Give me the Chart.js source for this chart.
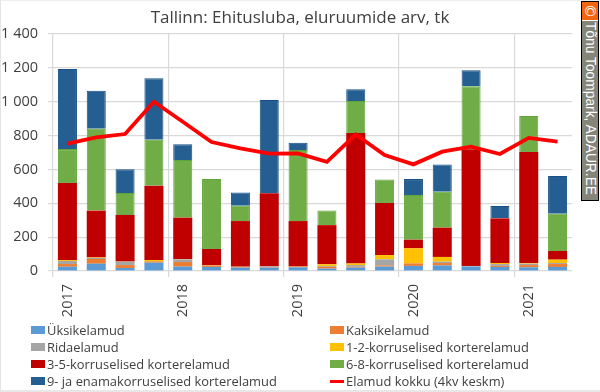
<!DOCTYPE html>
<html><head><meta charset="utf-8">
<script src="https://cdn.jsdelivr.net/npm/chart.js@4"></script>
<style>
html,body{margin:0;padding:0;background:#fff;width:600px;height:392px;overflow:hidden}
#wrap{position:relative;width:600px;height:392px;font-family:"Open Sans",sans-serif}
canvas{position:absolute;left:0;top:0}
#frame{position:absolute;left:0;top:0;width:600px;height:392px;box-sizing:border-box;border-left:1px solid #e4e4e4;border-top:1px solid #eeeeee;border-bottom:2px solid #e8e8e8}
.lg{position:absolute;font-size:12.9px;line-height:16px;color:#404040;white-space:nowrap}
.sw{position:absolute;width:14px;height:8px;box-sizing:border-box}
#wm{position:absolute;left:581px;top:1px;width:18px;height:200px;border:1px solid #000;background:#85857a;box-sizing:border-box;overflow:hidden}
#wmc{position:absolute;left:0;top:0;width:16px;height:18px;background:#f4650f;color:#fff;font:14px "DejaVu Sans";text-align:center;line-height:18px;border-bottom:1px solid #fff;box-sizing:content-box}
#wmc span{display:inline-block;transform:rotate(90deg)}
#wmt{position:absolute;left:16px;top:20px;transform-origin:0 0;transform:rotate(90deg);color:#fff;font:13.8px "Liberation Sans";white-space:nowrap;line-height:16px}
</style></head><body>
<div id="wrap"><canvas id="c" width="600" height="392"></canvas>
<div id="frame"></div>
<div id="wm"><div id="wmc"><span>©</span></div><div id="wmt">Tõnu Toompark, ADAUR.EE</div></div>
</div>
<script>
const categories=['2017','','','','2018','','','','2019','','','','2020','','','','2021',''];
const seriesNames=['Üksikelamud','Kaksikelamud','Ridaelamud','1-2-korruselised korterelamud','3-5-korruselised korterelamud','6-8-korruselised korterelamud','9- ja enamakorruselised korterelamud','Elamud kokku (4kv keskm)'];
const yksik=[25,43,18,49,26,24,20,20,22,14,20,26,30,33,26,24,22,24];
const kaksik=[16,28,17,8,27,9,6,4,6,11,5,7,15,14,0,6,13,17];
const rida=[18,6,20,0,16,0,0,4,0,5,10,36,0,8,4,11,8,6];
const yks2=[5,3,1,8,2,2,0,0,0,10,10,25,89,28,0,6,4,20];
const k35=[456,277,275,438,244,95,269,432,267,231,770,307,51,173,689,264,656,51];
const k68=[200,483,130,272,340,413,91,0,420,87,189,140,264,212,373,0,212,220];
const k9=[473,225,140,363,93,0,78,550,43,0,69,0,94,161,94,73,0,223];
const kokku=[752,789,809,1000,882,762,725,693,695,645,807,685,630,705,735,691,786,764];
const fills=['#5b9bd5','#ed7d31','#a5a5a5','#ffc000','#c00000','#70ad47','#255e91'];
const edges=[null,null,null,null,null,'#5fa638','#174f86'];
const stacks=[yksik,kaksik,rida,yks2,k35,k68,k9];
const datasets=stacks.map((d,i)=>({type:'bar',label:seriesNames[i],data:d,backgroundColor:fills[i],borderColor:edges[i]||fills[i],borderWidth:edges[i]?1:0,stack:'s',order:2,barPercentage:0.66,categoryPercentage:1}));
datasets.push({type:'line',label:seriesNames[7],data:kokku,borderColor:'#ff0000',borderWidth:3.8,pointRadius:0,tension:0,fill:false,order:1,borderJoinStyle:'miter'});
const grid='#d9d9d9';
const chart=new Chart(document.getElementById('c'),{
 data:{labels:categories,datasets},
 options:{responsive:false,animation:false,
  layout:{padding:0},
  plugins:{legend:{display:false},tooltip:{enabled:false},
   title:{display:true,text:'Tallinn: Ehitusluba, eluruumide arv, tk',color:'#404040',font:{family:'"Open Sans"',size:17,weight:'normal',lineHeight:1.2},padding:{top:8,bottom:5.6}}},
  scales:{
   x:{stacked:true,offset:true,
    grid:{offset:true,drawTicks:true,tickLength:6,color:c=>(c.index%4===0?grid:'rgba(0,0,0,0)'),lineWidth:1.2},
    border:{display:false},
    ticks:{autoSkip:false,minRotation:90,maxRotation:90,color:'#404040',font:{family:'"Open Sans"',size:14.5},padding:7},
    afterFit(s){s.height=121;}},
   y:{stacked:true,min:0,max:1400,
    grid:{color:grid,lineWidth:1.2,tickLength:5},
    border:{display:false},
    ticks:{stepSize:200,color:'#404040',padding:10,font:{family:'"Open Sans"',size:14.5},callback:v=>v>=1000?Math.floor(v/1000)+' '+String(v%1000).padStart(3,'0'):String(v)},
    afterFit(s){s.width=53;}},
   spacer:{type:'linear',position:'right',display:true,grid:{display:false},border:{display:false},ticks:{display:false},afterFit(s){s.width=28;}}
  }}
});
const wrap=document.getElementById('wrap');
const rows=[330,347,363.5,381],cols=[31,330];
seriesNames.forEach((n,i)=>{
 const cx=cols[i%2],ry=rows[i>>1];
 const sw=document.createElement('div');sw.className='sw';
 sw.style.left=cx+'px';
 if(i<7){sw.style.top=(ry-4)+'px';sw.style.background=fills[i];}
 else{sw.style.top=(ry-1)+'px';sw.style.height='3px';sw.style.background='#ff0000';}
 wrap.appendChild(sw);
 const t=document.createElement('div');t.className='lg';t.textContent=n;
 t.style.left=(cx+16)+'px';t.style.top=(ry-8)+'px';wrap.appendChild(t);
});
</script></body></html>
